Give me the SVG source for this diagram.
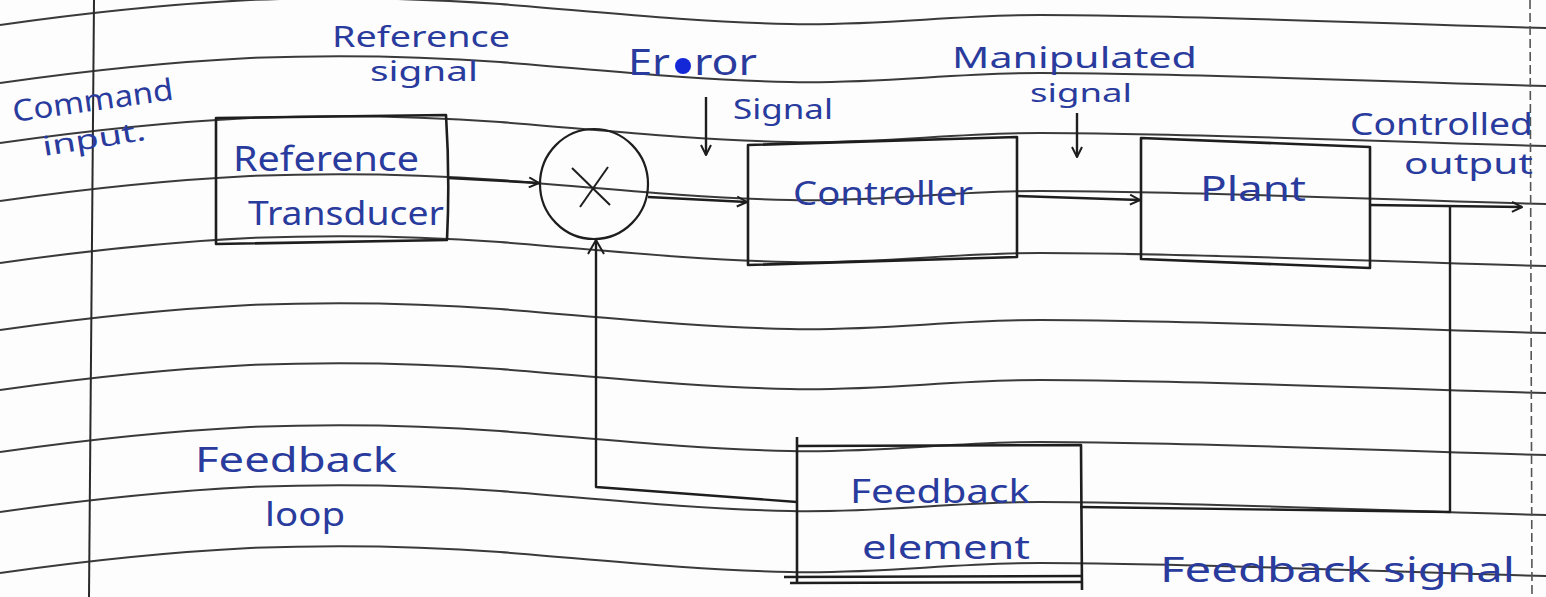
<svg xmlns="http://www.w3.org/2000/svg" xmlns:xlink="http://www.w3.org/1999/xlink" width="1546" height="597" viewBox="0 0 1546 597">
  <style>
    .rule { fill: none; stroke: #3a3a3a; stroke-width: 2; }
    .box { fill: none; stroke: #1e1e1e; stroke-width: 2.6; stroke-linejoin: round; }
    .wire { fill: none; stroke: #1e1e1e; stroke-width: 2.4; stroke-linejoin: round; }
    .ink { fill: #2a3b9e; font-family: "Noto Sans", "DejaVu Sans", sans-serif; font-weight: 400; }
  </style>
  <defs>
    <!-- one ruled line of the notebook page, starting at y=0 on the left edge -->
    <path id="rule" class="rule" d="M0,0 C70,-10 150,-20 250,-25 C350,-29 430,-26 500,-21 C590,-14 690,-3 790,-1 C880,1 950,-10 1040,-10 C1200,-10 1380,-1 1546,3"/>
    <marker id="chev" viewBox="0 0 12 12" refX="11" refY="6" markerWidth="12" markerHeight="12" markerUnits="userSpaceOnUse" orient="auto">
      <path d="M1,1 L11,6 L1,11" fill="none" stroke="#1e1e1e" stroke-width="2"/>
    </marker>
    <marker id="chevBig" viewBox="0 0 18 18" refX="16" refY="9" markerWidth="18" markerHeight="18" markerUnits="userSpaceOnUse" orient="auto">
      <path d="M2,1 L16,9 L2,17" fill="none" stroke="#1e1e1e" stroke-width="2"/>
    </marker>
  </defs>

  <rect width="1546" height="597" fill="#fdfdfd"/>

  <!-- ruled paper -->
  <g id="paper">
    <use xlink:href="#rule" y="25"/>
    <use xlink:href="#rule" y="83"/>
    <use xlink:href="#rule" y="143"/>
    <use xlink:href="#rule" y="201"/>
    <use xlink:href="#rule" y="263"/>
    <use xlink:href="#rule" y="330"/>
    <use xlink:href="#rule" y="390"/>
    <use xlink:href="#rule" y="452"/>
    <use xlink:href="#rule" y="512"/>
    <use xlink:href="#rule" y="573"/>
    <line x1="94" y1="0" x2="89" y2="597" stroke="#2a2a2a" stroke-width="2"/>
    <line x1="1530" y1="0" x2="1532" y2="597" stroke="#555" stroke-width="1.6" stroke-dasharray="9 4"/>
  </g>

  <!-- connectors -->
  <g id="connectors">
    <path class="wire" d="M448,178 L539,183" marker-end="url(#chev)"/>
    <path class="wire" d="M648,197 L747,202" marker-end="url(#chev)"/>
    <path class="wire" d="M1017,196 L1140,200" marker-end="url(#chev)"/>
    <path class="wire" d="M1370,205 L1522,207" marker-end="url(#chev)"/>
    <path class="wire" d="M1450,206 L1450,512 L1080,507"/>
    <path class="wire" d="M797,502 L596,487 L596,240" marker-end="url(#chevBig)"/>
    <path class="wire" d="M706,97 L706,155" marker-end="url(#chev)"/>
    <path class="wire" d="M1077,113 L1077,157" marker-end="url(#chev)"/>
  </g>

  <!-- nodes -->
  <g id="reference-transducer">
    <path class="box" d="M216,118 L446,115 Q450,178 447,240 L216,244 Z"/>
    <text class="ink" x="233" y="171" font-size="34" textLength="186" lengthAdjust="spacingAndGlyphs">Reference</text>
    <text class="ink" x="248" y="225" font-size="32" textLength="196" lengthAdjust="spacingAndGlyphs">Transducer</text>
  </g>

  <g id="summing-junction">
    <ellipse cx="594" cy="184" rx="54" ry="55" fill="none" stroke="#1e1e1e" stroke-width="2.2"/>
    <line x1="572" y1="168" x2="610" y2="205" stroke="#1e1e1e" stroke-width="2"/>
    <line x1="608" y1="167" x2="580" y2="207" stroke="#1e1e1e" stroke-width="2"/>
  </g>

  <g id="controller">
    <path class="box" d="M748,145 L1017,137 L1017,257 L748,265 Z"/>
    <text class="ink" x="793" y="205" font-size="32" textLength="180" lengthAdjust="spacingAndGlyphs">Controller</text>
  </g>

  <g id="plant">
    <path class="box" d="M1141,138 L1370,147 L1370,268 L1141,259 Z"/>
    <text class="ink" x="1200" y="201" font-size="34" textLength="106" lengthAdjust="spacingAndGlyphs">Plant</text>
  </g>

  <g id="feedback-element">
    <path class="box" d="M797,437 L797,583"/>
    <path class="box" d="M797,446 L1081,445 L1082,590"/>
    <path class="box" d="M784,577 L1082,576 M790,583 L1082,582"/>
    <text class="ink" x="850" y="503" font-size="32" textLength="180" lengthAdjust="spacingAndGlyphs">Feedback</text>
    <text class="ink" x="862" y="559" font-size="32" textLength="168" lengthAdjust="spacingAndGlyphs">element</text>
  </g>

  <!-- labels -->
  <g id="labels">
    <text class="ink" x="332" y="47" font-size="29" textLength="178" lengthAdjust="spacingAndGlyphs">Reference</text>
    <text class="ink" x="370" y="81" font-size="27" textLength="108" lengthAdjust="spacingAndGlyphs">signal</text>
    <text class="ink" font-size="30" transform="translate(14,122) rotate(-8)" textLength="162" lengthAdjust="spacingAndGlyphs">Command</text>
    <text class="ink" font-size="27" transform="translate(44,156) rotate(-9)" textLength="104" lengthAdjust="spacingAndGlyphs">input.</text>
    <text class="ink" x="628" y="75" font-size="36"><tspan textLength="42" lengthAdjust="spacingAndGlyphs">Er</tspan><tspan x="694" textLength="63" lengthAdjust="spacingAndGlyphs">ror</tspan></text>
    <circle cx="683" cy="66" r="8" fill="#1428d8"/>
    <text class="ink" x="733" y="119" font-size="28" textLength="100" lengthAdjust="spacingAndGlyphs">Signal</text>
    <text class="ink" x="952" y="68" font-size="29" textLength="245" lengthAdjust="spacingAndGlyphs">Manipulated</text>
    <text class="ink" x="1030" y="102" font-size="25" textLength="102" lengthAdjust="spacingAndGlyphs">signal</text>
    <text class="ink" x="1350" y="135" font-size="31" textLength="183" lengthAdjust="spacingAndGlyphs">Controlled</text>
    <text class="ink" x="1404" y="174" font-size="29" textLength="129" lengthAdjust="spacingAndGlyphs">output</text>
    <text class="ink" x="195" y="472" font-size="34" textLength="202" lengthAdjust="spacingAndGlyphs">Feedback</text>
    <text class="ink" x="265" y="526" font-size="32" textLength="80" lengthAdjust="spacingAndGlyphs">loop</text>
    <text class="ink" x="1160" y="582" font-size="34" textLength="355" lengthAdjust="spacingAndGlyphs">Feedback signal</text>
  </g>
</svg>
